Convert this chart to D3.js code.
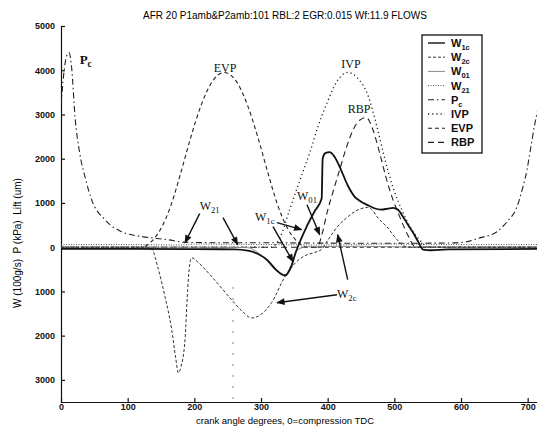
<!DOCTYPE html>
<html>
<head>
<meta charset="utf-8">
<script src="https://cdn.jsdelivr.net/npm/d3@7"></script>
<style>
body { margin: 0; background: #fff; }
svg { font-family: "Liberation Sans", Arial, sans-serif; }
</style>
</head>
<body>
<div id="chart"></div>
<script>
var width = 537, height = 432;

var chartTitle = "AFR 20 P1amb&P2amb:101 RBL:2 EGR:0.015 Wf:11.9 FLOWS";
var xTitle = "crank angle degrees, 0=compression TDC";
var yTitle = "W (100g/s)  P (kPa)  Lift (um)";
var xTicks = [0, 100, 200, 300, 400, 500, 600, 700];
var yTicks = [-3000, -2000, -1000, 0, 1000, 2000, 3000, 4000, 5000];

// series (angle in deg, value in axis units)
var w1cAngle = [0, 100, 200, 260, 280, 295, 310, 322, 336, 345, 352, 360, 368, 380, 391, 392.5, 396, 403, 410, 420, 430, 440, 448, 460, 470, 480, 490, 498, 505, 513, 520, 528, 536, 543, 555, 580, 720];
var w1cValue = [-40, -40, -45, -50, -80, -150, -300, -500, -640, -450, -120, 180, 450, 800, 1100, 2000, 2120, 2150, 2050, 1750, 1400, 1150, 1050, 950, 880, 850, 870, 890, 850, 690, 520, 330, 120, -55, -70, -50, -40];

var w2cAngle = [0, 130, 137, 146, 156, 166, 172, 176, 180, 186, 190, 193, 196, 206, 226, 256, 272, 286, 300, 316, 336, 350, 365, 380, 390, 400, 408, 418, 429, 440, 450, 460, 468, 474, 482, 489, 497, 504, 512, 520, 720];
var w2cValue = [0, 0, -60, -500, -1120, -1860, -2500, -2840, -2700, -2090, -960, -400, -240, -350, -665, -1190, -1450, -1600, -1520, -1250, -665, -380, -200, -120, -60, 150, 330, 520, 670, 800, 870, 900, 820, 690, 560, 460, 300, 170, 50, 0, 0];

var w01Angle = [0, 200, 280, 295, 310, 325, 336, 345, 355, 370, 450, 540, 720];
var w01Value = [0, 0, -10, -120, -330, -560, -620, -420, -60, 10, 20, 0, 0];

var w21Angle = [0, 100, 180, 200, 300, 400, 500, 600, 720];
var w21Value = [60, 60, 50, 70, 60, 50, 70, 60, 60];

var pcAngle = [0, 4, 8, 12, 16, 21, 28, 36, 46, 66, 91, 121, 160, 186, 240, 300, 360, 420, 480, 540, 580, 603, 628, 654, 669, 684, 693, 699, 703, 711, 720];
var pcValue = [3200, 3900, 4300, 4400, 4050, 2950, 2130, 1590, 1070, 620, 350, 240, 170, 110, 100, 100, 95, 90, 90, 90, 95, 110, 210, 350, 575, 915, 1370, 1750, 2100, 2810, 3400];

var ivpAngle = [0, 315, 328, 343, 358, 373, 386, 399, 414, 430, 445, 460, 474, 486, 498, 511, 524, 537, 552, 720];
var ivpValue = [0, 0, 200, 850, 1500, 2130, 2750, 3260, 3750, 3950, 3820, 3450, 2720, 1980, 1350, 850, 450, 180, 0, 0];

var evpAngle = [0, 120, 135, 150, 165, 180, 195, 210, 225, 245, 265, 280, 295, 310, 325, 340, 355, 370, 720];
var evpValue = [0, 0, 120, 420, 950, 1700, 2500, 3200, 3700, 3950, 3700, 3200, 2500, 1700, 950, 420, 120, 0, 0];

var rbpAngle = [0, 384, 392, 399, 408, 418, 428, 438, 448, 458, 468, 478, 488, 498, 510, 520, 532, 720];
var rbpValue = [0, 0, 320, 775, 1250, 1750, 2250, 2650, 2870, 2930, 2650, 2130, 1550, 1070, 620, 280, 0, 0];

var markerAngle = [258];

var series = [
  {name: "W", sub: "1c", angle: w1cAngle, value: w1cValue, color: "#111", w: 1.8, dash: null},
  {name: "W", sub: "2c", angle: w2cAngle, value: w2cValue, color: "#333", w: 1, dash: "3,2"},
  {name: "W", sub: "01", angle: w01Angle, value: w01Value, color: "#888", w: 1, dash: null},
  {name: "W", sub: "21", angle: w21Angle, value: w21Value, color: "#555", w: 1, dash: "1,1.5"},
  {name: "P", sub: "c", angle: pcAngle, value: pcValue, color: "#222", w: 1.1, dash: "6,3,1.5,3"},
  {name: "IVP", sub: "", angle: ivpAngle, value: ivpValue, color: "#222", w: 1.3, dash: "1.2,3"},
  {name: "EVP", sub: "", angle: evpAngle, value: evpValue, color: "#222", w: 1.1, dash: "4,3"},
  {name: "RBP", sub: "", angle: rbpAngle, value: rbpValue, color: "#222", w: 1.1, dash: "6,4"}
];

// labels and arrows in data units
var notes = [
  {t: "P", s: "c", x: 28, y: 4130, bold: true, size: 13},
  {t: "EVP", s: "", x: 246, y: 3970, size: 12},
  {t: "IVP", s: "", x: 435, y: 4060, size: 12},
  {t: "RBP", s: "", x: 447, y: 3040, size: 12},
  {t: "W", s: "21", x: 208, y: 830, size: 12},
  {t: "W", s: "1c", x: 291, y: 600, size: 12},
  {t: "W", s: "01", x: 354, y: 1060, size: 12},
  {t: "W", s: "2c", x: 414, y: -1140, size: 12}
];
var arrows = [
  [208, 757, 186, 100],
  [243, 667, 265, 57],
  [324, 554, 361, 396],
  [318, 463, 348, -328],
  [369, 961, 388, 283],
  [414, -1074, 324, -1255],
  [430, -735, 415, 283]
];

var x = d3.scaleLinear().domain([0, 720]).range([61, 541]);
var y = d3.scaleLinear().domain([-3500, 5000]).range([402, 26]);

var svg = d3.select("#chart").append("svg").attr("width", width).attr("height", height);

svg.append("defs").append("clipPath").attr("id", "clip")
  .append("rect").attr("x", 61).attr("y", 20).attr("width", 480).attr("height", 382);

svg.select("defs").append("marker").attr("id", "head")
  .attr("viewBox", "0 0 10 10").attr("refX", 9).attr("refY", 5)
  .attr("markerWidth", 7).attr("markerHeight", 6).attr("orient", "auto")
  .append("path").attr("d", "M0,1L10,5L0,9Z").attr("fill", "#111");

svg.append("text").attr("x", 285).attr("y", 19).attr("text-anchor", "middle")
  .attr("font-size", 10).text(chartTitle);

var yAxis = svg.append("g").attr("transform", "translate(61,0)")
  .call(d3.axisLeft(y).tickValues(yTicks).tickSize(-4).tickSizeOuter(-4).tickPadding(6)
    .tickFormat(function(d) { return Math.abs(d); }));
var xAxis = svg.append("g").attr("transform", "translate(0,402)")
  .call(d3.axisBottom(x).tickValues(xTicks).tickSize(-4).tickSizeOuter(0).tickPadding(2));
[xAxis, yAxis].forEach(function(a) {
  a.selectAll("text").attr("font-size", 9).attr("font-weight", "bold").attr("fill", "#111")
    .attr("font-family", "'Liberation Sans', Arial, sans-serif");
  a.selectAll("line,path").attr("stroke", "#111").attr("stroke-width", 1.2);
});

svg.append("text").attr("x", 285).attr("y", 424).attr("text-anchor", "middle")
  .attr("font-size", 9.5).text(xTitle);
svg.append("text").attr("transform", "translate(21,243) rotate(-90)")
  .attr("text-anchor", "middle").attr("font-size", 10).style("white-space", "pre").text(yTitle);

var plot = svg.append("g").attr("clip-path", "url(#clip)");

plot.selectAll(".marker").data(markerAngle).enter().append("line")
  .attr("x1", function(d) { return x(d); }).attr("x2", function(d) { return x(d); })
  .attr("y1", y(-900)).attr("y2", y(-3500))
  .attr("stroke", "#666").attr("stroke-width", 0.8).attr("stroke-dasharray", "2,9");

var line = d3.line().curve(d3.curveMonotoneX)
  .x(function(d) { return x(d[0]); }).y(function(d) { return y(d[1]); });

plot.selectAll(".series").data(series.slice().reverse()).enter().append("path")
  .attr("fill", "none")
  .attr("stroke", function(d) { return d.color; })
  .attr("stroke-width", function(d) { return d.w; })
  .attr("stroke-dasharray", function(d) { return d.dash; })
  .attr("d", function(d) { return line(d3.zip(d.angle, d.value)); });

// annotations
notes.forEach(function(n) {
  var t = svg.append("text").attr("x", x(n.x)).attr("y", y(n.y))
    .attr("font-family", "'Liberation Serif', 'Times New Roman', serif")
    .attr("font-size", n.size).attr("font-weight", n.bold ? "bold" : "normal")
    .attr("fill", "#111").attr("text-anchor", n.s ? "start" : "middle");
  t.append("tspan").text(n.t);
  if (n.s) t.append("tspan").attr("dy", 3).attr("font-size", n.size * 0.72).text(n.s);
});
svg.selectAll(".arrow").data(arrows).enter().append("line")
  .attr("x1", function(d) { return x(d[0]); }).attr("y1", function(d) { return y(d[1]); })
  .attr("x2", function(d) { return x(d[2]); }).attr("y2", function(d) { return y(d[3]); })
  .attr("stroke", "#111").attr("stroke-width", 1.4).attr("marker-end", "url(#head)");

// legend
var lg = svg.append("g");
lg.append("rect").attr("x", 422).attr("y", 35).attr("width", 60).attr("height", 118)
  .attr("fill", "#fff").attr("stroke", "#111").attr("stroke-width", 1.3);
series.forEach(function(s, i) {
  var ly = 43 + i * 14.2;
  lg.append("line").attr("x1", 428).attr("x2", 445).attr("y1", ly).attr("y2", ly)
    .attr("stroke", s.color).attr("stroke-width", Math.min(s.w, 1.4)).attr("stroke-dasharray", s.dash);
  var t = lg.append("text").attr("x", 451).attr("y", ly + 4).attr("font-size", 11)
    .attr("font-weight", "bold").attr("fill", "#111");
  t.append("tspan").text(s.name);
  if (s.sub) t.append("tspan").attr("dy", 3).attr("font-size", 7.5).text(s.sub);
});
</script>
</body>
</html>
